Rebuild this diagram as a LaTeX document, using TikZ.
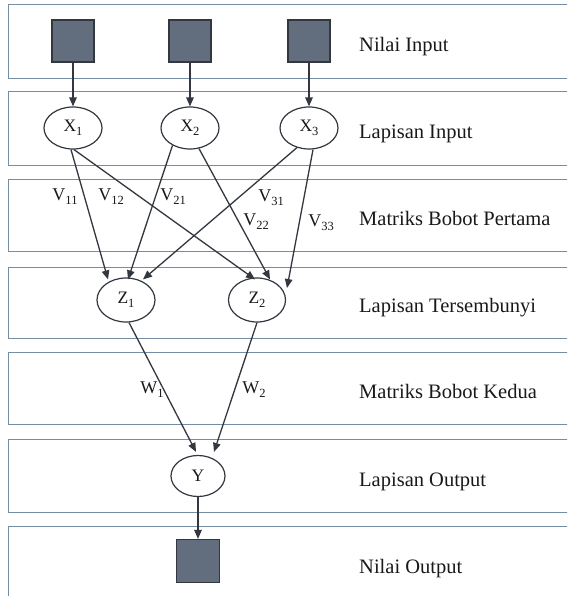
\documentclass[tikz,border=0pt]{standalone}
\usepackage{fontspec}
\setmainfont{Liberation Serif}
\usetikzlibrary{arrows.meta,shapes.geometric}
\definecolor{bandline}{RGB}{118,142,164}
\definecolor{ink}{RGB}{50,55,64}
\definecolor{boxfill}{RGB}{98,110,126}
\newcommand\lsub[1]{\raisebox{-0.22em}{\fontsize{12.5}{12.5}\selectfont #1}}
\begin{document}
\begin{tikzpicture}[x=1pt,y=-1pt,
  band/.style={draw=bandline,line width=1pt,fill=white},
  valuebox/.style={draw=ink,line width=1.2pt,fill=boxfill,minimum width=42pt,minimum height=42pt,inner sep=0pt},
  neuron/.style={ellipse,draw=ink,line width=1.2pt,fill=white,minimum width=58pt,minimum height=42pt,inner sep=0pt,font=\fontsize{17.5}{19}\selectfont,text=black!90},
  layerlabel/.style={anchor=base west,font=\fontsize{20.5}{23}\selectfont,text=black!90,inner sep=0pt},
  wlabel/.style={font=\fontsize{18}{19}\selectfont,inner sep=0pt,text=black!90},
  link/.style={draw=ink,line width=1.3pt,-{Triangle[length=9pt,width=7.5pt]}}]
\useasboundingbox (0,0) rectangle (567,596);
\clip (0,0) rectangle (567,596);
\fill[white] (0,0) rectangle (567,596);

% layer bands
\foreach \t/\b in {5/79,92/165,179/251,267/338,352/424,439/512,526/612}
  \draw[band] (8,\t) rectangle (590,\b);

% input values and input layer
\node[valuebox] (in1) at (73,41) {};
\node[valuebox] (in2) at (190,41) {};
\node[valuebox] (in3) at (309,41) {};
\node[neuron] (x1) at (73,128) {X\lsub{1}};
\node[neuron] (x2) at (190,128) {X\lsub{2}};
\node[neuron] (x3) at (309,128) {X\lsub{3}};

% hidden layer
\node[neuron,minimum height=44pt] (z1) at (126,300) {Z\lsub{1}};
\node[neuron,minimum width=57pt,minimum height=44pt] (z2) at (257,300) {Z\lsub{2}};

% output layer and output value
\node[neuron,minimum width=54pt,minimum height=41pt] (y) at (198,476) {Y};
\node[valuebox,minimum width=43pt,minimum height=43pt] (out) at (198,561) {};

% input connections
\draw[link] (in1) -- (x1);
\draw[link] (in2) -- (x2);
\draw[link] (in3) -- (x3);

% first weight matrix
\draw[link] ([xshift=-2pt]x1.south) -- ([xshift=-18pt,yshift=-2pt]z1.north);
\draw[link] ([xshift=1pt]x1.south) -- ([xshift=-2pt,yshift=-2pt]z2.north);
\draw[link] ([xshift=-17.5pt,yshift=4.2pt]x2.south) -- ([xshift=2pt,yshift=-2pt]z1.north);
\draw[link] ([xshift=9pt,yshift=1pt]x2.south) -- ([xshift=13pt,yshift=-2pt]z2.north);
\draw[link] ([xshift=-12pt,yshift=2pt]x3.south) -- ([xshift=17pt,yshift=-2pt]z1.north);
\draw[link] ([xshift=4pt]x3.south) -- ([xshift=30pt,yshift=12pt]z2.center);

% second weight matrix
\draw[link] ([xshift=3pt]z1.south) -- ([xshift=-2pt,yshift=3pt]y.north);
\draw[link] (z2.south) -- ([xshift=16pt,yshift=3pt]y.north);

% output connection
\draw[link] (y) -- (out);

% weight labels
\node[wlabel] (v11) at (65,197) {V\lsub{11}};
\node[wlabel] (v12) at (111,197) {V\lsub{12}};
\node[wlabel] (v21) at (173,197) {V\lsub{21}};
\node[wlabel] (v31) at (271,198) {V\lsub{31}};
\node[wlabel] (v22) at (256,222) {V\lsub{22}};
\node[wlabel] (v33) at (321,223) {V\lsub{33}};
\node[wlabel] (w1) at (152,390) {W\lsub{1}};
\node[wlabel] (w2) at (254,390) {W\lsub{2}};

% layer names
\node[layerlabel] (n1) at (359,52) {Nilai Input};
\node[layerlabel] (n2) at (359,139) {Lapisan Input};
\node[layerlabel] (n3) at (359,225) {Matriks Bobot Pertama};
\node[layerlabel] (n4) at (359,312) {Lapisan Tersembunyi};
\node[layerlabel] (n5) at (359,398) {Matriks Bobot Kedua};
\node[layerlabel] (n6) at (359,486) {Lapisan Output};
\node[layerlabel] (n7) at (359,573) {Nilai Output};
\end{tikzpicture}
\end{document}
